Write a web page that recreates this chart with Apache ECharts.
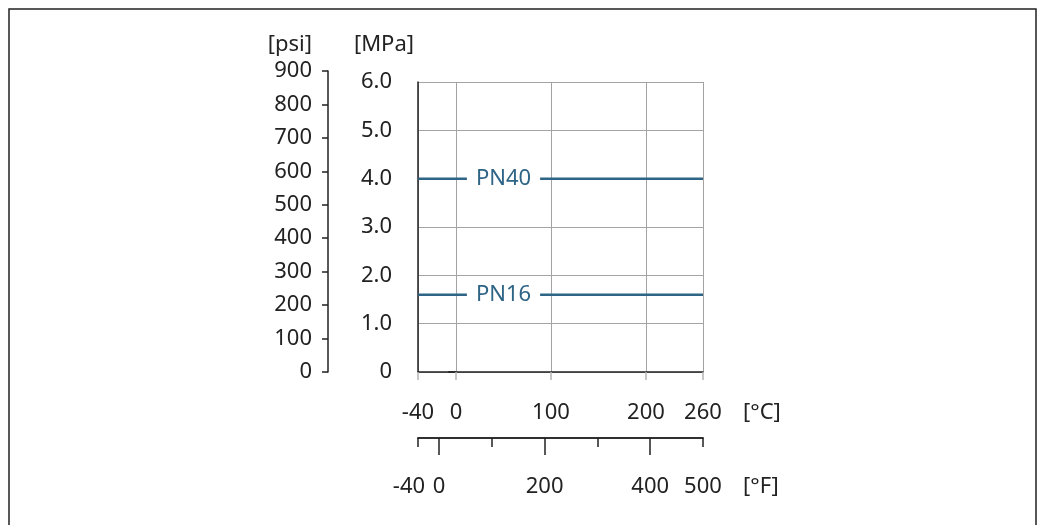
<!DOCTYPE html>
<html>
<head>
<meta charset="utf-8">
<script src="https://cdn.jsdelivr.net/npm/echarts@6/dist/echarts.min.js"></script>
<style>
  html, body { margin: 0; padding: 0; background: #fff; }
  #chart { width: 1043px; height: 525px; }
</style>
</head>
<body>
<div id="chart"></div>
<script>
// pressure classes, flat over the whole temperature range
const pnNames = ['PN40', 'PN16']
const pnMpa = [4.0, 1.6]
const tempRangeC = [-40, 260]
const labelAtC = 50

// tick labels
const celsiusTicks = [-40, 0, 100, 200, 260]
const fahrMajorTicks = [0, 200, 400]
const fahrMinorTicks = [-40, 100, 300, 500]
const fahrLabels = [-40, 0, 200, 400, 500]

const FONT = 'Noto Sans'
const FS = 22
const TEXT = '#222'
const LINE = '#2e6486'
const GRID = '#a3a3a3'

const chart = echarts.init(document.getElementById('chart'))

const series = pnNames.map((name, i) => ({
  type: 'line',
  name: name,
  xAxisIndex: 0,
  yAxisIndex: 0,
  symbol: 'none',
  silent: true,
  lineStyle: { color: LINE, width: 2.5 },
  data: tempRangeC.map(t => [t, pnMpa[i]]),
  markPoint: {
    symbol: 'circle',
    symbolSize: 1,
    itemStyle: { color: 'rgba(0,0,0,0)' },
    label: {
      show: true,
      position: 'inside',
      formatter: name,
      color: LINE,
      fontFamily: FONT,
      fontSize: FS,
      backgroundColor: '#fff',
      padding: [2, 9]
    },
    data: [{ coord: [labelAtC, pnMpa[i]] }]
  }
}))

chart.setOption({
  animation: false,
  backgroundColor: '#fff',
  textStyle: { fontFamily: FONT },
  graphic: [{
    type: 'polyline',
    shape: { points: [[9, 525], [9, 9], [1036, 9], [1036, 525]] },
    style: { stroke: TEXT, lineWidth: 1.5, fill: null }
  }],
  grid: [
    { left: 418, top: 82, width: 285, height: 290, outerBoundsMode: 'none' },
    { left: 328, top: 71, width: 1, height: 301, outerBoundsMode: 'none' },
    { left: 418, top: 400, width: 285, height: 38, outerBoundsMode: 'none' }
  ],
  xAxis: [
    {
      gridIndex: 0,
      type: 'value',
      min: -40,
      max: 260,
      name: '[°C]',
      nameLocation: 'end',
      nameGap: 40,
      nameMoveOverlap: false,
      nameTextStyle: { color: TEXT, fontSize: FS, verticalAlign: 'top', lineHeight: 82 },
      axisLine: { show: true, onZero: false, lineStyle: { color: TEXT, width: 1.5 } },
      axisTick: { show: true, length: 8, customValues: celsiusTicks, lineStyle: { color: '#b5b5b5', width: 1.5 } },
      axisLabel: { color: TEXT, fontSize: FS, margin: 30, customValues: celsiusTicks, hideOverlap: false },
      splitLine: { show: true, lineStyle: { color: GRID, width: 1 } }
    },
    { gridIndex: 1, type: 'value', show: false },
    {
      gridIndex: 2,
      type: 'value',
      min: -40,
      max: 500,
      position: 'bottom',
      name: '[°F]',
      nameLocation: 'end',
      nameGap: 40,
      nameMoveOverlap: false,
      nameTextStyle: { color: TEXT, fontSize: FS, verticalAlign: 'top', lineHeight: 98 },
      axisLine: { show: true, onZero: false, lineStyle: { color: TEXT, width: 1.5 } },
      axisTick: { show: true, length: 17, customValues: fahrMajorTicks, lineStyle: { color: TEXT, width: 1.5 } },
      axisLabel: {
        color: TEXT,
        fontSize: FS,
        margin: 38,
        customValues: fahrLabels,
        hideOverlap: false,
        showMinLabel: true,
        formatter: v => (v === -40 ? '{l|-40}' : String(v)),
        rich: { l: { fontSize: FS, color: TEXT, padding: [0, 18, 0, 0] } }
      },
      splitLine: { show: false }
    },
    {
      gridIndex: 2,
      type: 'value',
      min: -40,
      max: 500,
      position: 'bottom',
      axisLine: { show: true, onZero: false, lineStyle: { color: TEXT, width: 1.5 } },
      axisTick: { show: true, length: 9, customValues: fahrMinorTicks, lineStyle: { color: TEXT, width: 1.5 } },
      axisLabel: { show: false },
      splitLine: { show: false }
    }
  ],
  yAxis: [
    {
      gridIndex: 0,
      type: 'value',
      min: 0,
      max: 6,
      interval: 1,
      name: '[MPa]',
      nameLocation: 'end',
      nameGap: 37,
      nameTextStyle: { color: TEXT, fontSize: FS, align: 'right', verticalAlign: 'middle', padding: [0, 4, 0, 0] },
      axisLine: { show: true, onZero: false, lineStyle: { color: TEXT, width: 1.5 } },
      axisTick: { show: false },
      axisLabel: {
        color: TEXT,
        fontSize: FS,
        margin: 26,
        formatter: v => (v === 0 ? '0' : v.toFixed(1))
      },
      splitLine: { show: true, lineStyle: { color: GRID, width: 1 } }
    },
    {
      gridIndex: 1,
      type: 'value',
      min: 0,
      max: 900,
      interval: 100,
      name: '[psi]',
      nameLocation: 'end',
      nameGap: 26,
      nameTextStyle: { color: TEXT, fontSize: FS, align: 'right', verticalAlign: 'middle', padding: [0, 16, 0, 0] },
      axisLine: { show: true, lineStyle: { color: TEXT, width: 1.5 } },
      axisTick: { show: true, length: 6, lineStyle: { color: TEXT, width: 1.5 } },
      axisLabel: { color: TEXT, fontSize: FS, margin: 16 },
      splitLine: { show: false }
    },
    { gridIndex: 2, type: 'value', show: false },
    {
      // short overhang of the pressure axis at 0
      gridIndex: 0,
      type: 'value',
      min: 0,
      max: 6,
      position: 'left',
      axisLine: { show: false },
      axisTick: { show: true, length: 8, customValues: [0], lineStyle: { color: TEXT, width: 1.5 } },
      axisLabel: { show: false },
      splitLine: { show: false }
    }
  ],
  series: series
})
</script>
</body>
</html>
